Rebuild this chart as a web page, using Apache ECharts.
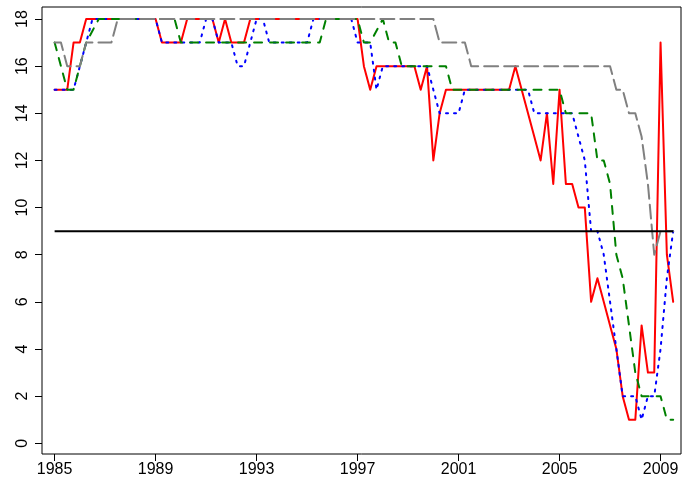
<!DOCTYPE html>
<html><head><meta charset="utf-8">
<script src="https://cdn.jsdelivr.net/npm/echarts@6/dist/echarts.min.js"></script>
<style>html,body{margin:0;padding:0;background:#fff}#c{width:685px;height:486px}</style>
</head><body><div id="c"></div>
<script>
// Quarterly data, first point at 1985 Q1
const startYear = 1985;
const quarterStep = 0.25;

const redSeries = [
  15, 15, 15, 17,
  17, 18, 18, 18,
  18, 18, 18, 18,
  18, 18, 18, 18,
  18, 17, 17, 17,
  17, 18, 18, 18,
  18, 18, 17, 18,
  17, 17, 17, 18,
  18, 18, 18, 18,
  18, 18, 18, 18,
  18, 18, 18, 18,
  18, 18, 18, 18,
  18, 16, 15, 16,
  16, 16, 16, 16,
  16, 16, 15, 16,
  12, 14, 15, 15,
  15, 15, 15, 15,
  15, 15, 15, 15,
  15, 16, 15, 14,
  13, 12, 14, 11,
  15, 11, 11, 10,
  10, 6, 7, 6,
  5, 4, 2, 1,
  1, 5, 3, 3,
  17, 8, 6
];

const blueSeries = [
  15, 15, 15, 15,
  16, 17, 18, 18,
  18, 18, 18, 18,
  18, 18, 18, 18,
  18, 17, 17, 17,
  17, 17, 17, 17,
  18, 18, 17, 17,
  17, 16, 16, 17,
  18, 18, 17, 17,
  17, 17, 17, 17,
  17, 18, 18, 18,
  18, 18, 18, 18,
  17, 17, 17, 15,
  16, 16, 16, 16,
  16, 16, 16, 16,
  15, 14, 14, 14,
  14, 15, 15, 15,
  15, 15, 15, 15,
  15, 15, 15, 15,
  14, 14, 14, 14,
  14, 14, 14, 13,
  12, 9, 9, 8,
  6, 4, 2, 2,
  2, 1, 2, 2,
  4, 7, 9
];

const greenSeries = [
  17, 16, 15, 15,
  16, 17, 17.5, 18,
  18, 18, 18, 18,
  18, 18, 18, 18,
  18, 18, 18, 18,
  17, 17, 17, 17,
  17, 17, 17, 17,
  17, 17, 17, 17,
  17, 17, 17, 17,
  17, 17, 17, 17,
  17, 17, 17, 18,
  18, 18, 18, 18,
  18, 17, 17, 17.5,
  18, 17, 17, 16,
  16, 16, 16, 16,
  16, 16, 16, 15,
  15, 15, 15, 15,
  15, 15, 15, 15,
  15, 15, 15, 15,
  15, 15, 15, 15,
  15, 14, 14, 14,
  14, 14, 12, 12,
  11, 8, 7, 5,
  3, 2, 2, 2,
  2, 1, 1
];

const graySeries = [
  17, 17, 16, 16,
  16, 17, 17, 17,
  17, 17, 18, 18,
  18, 18, 18, 18,
  18, 18, 18, 18,
  18, 18, 18, 18,
  18, 18, 18, 18,
  18, 18, 18, 18,
  18, 18, 18, 18,
  18, 18, 18, 18,
  18, 18, 18, 18,
  18, 18, 18, 18,
  18, 18, 18, 18,
  18, 18, 18, 18,
  18, 18, 18, 18,
  18, 17, 17, 17,
  17, 17, 16, 16,
  16, 16, 16, 16,
  16, 16, 16, 16,
  16, 16, 16, 16,
  16, 16, 16, 16,
  16, 16, 16, 16,
  16, 15, 15, 14,
  14, 13, 11, 8,
  9, 9, 9
];

const refLevel = 9;
const refStart = 1985;
const refEnd = 2009.5;

const xTicks = [1985, 1989, 1993, 1997, 2001, 2005, 2009];
const yTicks = [0, 2, 4, 6, 8, 10, 12, 14, 16, 18];

const toPairs = arr => arr.map((v, i) => [startYear + i * quarterStep, v]);

const chart = echarts.init(document.getElementById('c'), null, {renderer: 'canvas'});
const font = 'Liberation Sans, Arial, sans-serif';

chart.setOption({
  animation: false,
  backgroundColor: '#fff',
  grid: {left: 42, top: 7, right: 4, bottom: 32, show: true, borderColor: '#000', borderWidth: 1},
  xAxis: {
    type: 'value', min: 1984.50, max: 2009.81,
    splitLine: {show: false},
    axisLine: {show: false, onZero: false},
    axisTick: {show: true, inside: false, length: 7, lineStyle: {color: '#000', width: 1}, customValues: xTicks},
    axisLabel: {customValues: xTicks, fontSize: 16, color: '#000', fontFamily: font, margin: 8, formatter: v => String(v)}
  },
  yAxis: {
    type: 'value', min: -0.454, max: 18.509,
    splitLine: {show: false},
    axisLine: {show: false, onZero: false},
    axisTick: {show: true, inside: false, length: 7, lineStyle: {color: '#000', width: 1}, customValues: yTicks},
    axisLabel: {customValues: yTicks, rotate: 90, fontSize: 16, color: '#000', fontFamily: font, margin: 11, formatter: v => String(v)}
  },
  series: [
    {type: 'line', data: toPairs(redSeries), symbol: 'none',
     lineStyle: {color: '#ff0000', width: 2, join: 'round', cap: 'round'}},
    {type: 'line', data: toPairs(blueSeries), symbol: 'none',
     lineStyle: {color: '#0000ff', width: 2, type: [2, 6], cap: 'round', join: 'round'}},
    {type: 'line', data: toPairs(greenSeries), symbol: 'none',
     lineStyle: {color: '#008000', width: 2, type: [8, 8], cap: 'round', join: 'round'}},
    {type: 'line', data: toPairs(graySeries), symbol: 'none',
     lineStyle: {color: '#808080', width: 2, type: [14, 6], cap: 'round', join: 'round'}},
    {type: 'line', data: [[refStart, refLevel], [refEnd, refLevel]], symbol: 'none',
     lineStyle: {color: '#000', width: 2}}
  ]
});
</script></body></html>
